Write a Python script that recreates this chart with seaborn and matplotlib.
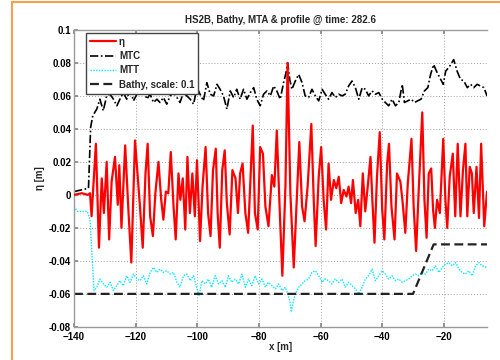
import numpy as np
import pandas as pd
import seaborn as sns
import matplotlib.pyplot as plt
from matplotlib.patches import Rectangle
from matplotlib.ticker import FuncFormatter

## DATOS
# eta: superficie libre
eta_x = [-140.0, -137.5, -135.5, -134.8, -134.3, -132.9, -131.9, -131.0, -130.3, -129.4,
         -128.6, -127.8, -126.7, -125.8, -125.3, -124.6, -123.4, -122.3, -121.4, -120.2,
         -119.4, -118.6, -117.7, -116.8, -116.1, -115.3, -114.4, -113.6, -112.6, -111.7,
         -111.0, -110.2, -109.4, -108.6, -107.7, -107.0, -106.1, -105.5, -104.7, -103.9,
         -103.2, -102.4, -101.6, -100.8, -100.1, -99.1, -98.3, -97.3, -96.5, -95.7,
         -94.9, -94.0, -93.4, -92.7, -91.9, -91.1, -90.4, -89.5, -88.6, -87.6,
         -86.8, -86.1, -85.3, -84.4, -83.5, -82.7, -82.0, -81.3, -80.4, -79.6,
         -78.7, -77.9, -76.9, -75.8, -75.0, -74.2, -73.3, -72.4, -71.4, -70.7,
         -69.8, -68.7, -67.7, -66.9, -66.0, -65.2, -64.2, -63.0, -62.2, -61.6,
         -60.6, -59.8, -59.0, -58.2, -57.4, -56.6, -55.7, -54.9, -54.1, -53.3,
         -52.5, -51.6, -50.9, -50.1, -49.5, -48.6, -47.8, -47.1, -46.3, -45.5,
         -44.7, -43.8, -43.2, -42.5, -41.7, -40.8, -40.0, -39.3, -38.4, -37.8,
         -37.0, -36.0, -35.2, -34.1, -33.4, -32.5, -31.7, -30.5, -29.8, -29.0,
         -28.1, -27.0, -26.3, -25.6, -24.9, -24.1, -23.5, -22.9, -22.2, -21.3,
         -20.2, -19.5, -18.9, -18.1, -17.1, -16.3, -15.5, -14.6, -13.8, -13.0,
         -12.4, -11.6, -10.9, -10.3, -9.4, -8.6, -7.9, -6.9, -6.0]
eta_y = [0.0, 0.001, 0.0, 0.001, -0.013, 0.031, -0.032, 0.01, -0.011, 0.02,
         -0.027, 0.008, 0.023, -0.006, 0.018, -0.02, 0.03, -0.011, -0.041, 0.033,
         0.013, -0.007, -0.032, 0.013, 0.031, -0.013, -0.025, 0.001, 0.02, -0.003,
         -0.015, 0.002, 0.001, 0.026, -0.007, -0.027, 0.013, -0.003, 0.01, -0.021,
         0.023, -0.011, 0.013, -0.013, 0.021, -0.028, 0.005, 0.029, -0.011, -0.025,
         0.015, 0.028, -0.011, -0.032, 0.015, 0.027, -0.005, -0.024, 0.015, 0.01,
         -0.011, 0.013, 0.019, -0.011, -0.023, 0.011, 0.042, -0.011, -0.021, 0.029,
         0.025, -0.007, -0.019, 0.012, 0.005, 0.039, -0.007, -0.049, 0.005, 0.08,
         0.001, -0.044, -0.001, 0.032, -0.007, -0.016, 0.005, 0.043, -0.004, -0.031,
         0.011, 0.029, -0.003, -0.021, 0.019, -0.003, 0.009, 0.004, 0.011, -0.005,
         0.003, -0.001, 0.005, -0.005, 0.009, -0.011, -0.003, -0.019, 0.013, -0.010,
         0.005, 0.023, -0.003, -0.029, 0.011, 0.038, -0.009, -0.027, 0.019, 0.031,
         -0.007, -0.027, 0.013, 0.008, -0.004, -0.023, 0.007, 0.034, -0.007, -0.034,
         0.005, 0.05, -0.003, -0.026, 0.013, 0.016, -0.009, -0.02, -0.003, -0.011,
         0.034, -0.003, -0.02, 0.011, 0.025, -0.013, 0.031, -0.013, 0.015, 0.031,
         -0.013, 0.017, 0.013, -0.011, 0.017, -0.014, 0.031, -0.019, 0.002]

# MTC (cresta media)
mtc_x = [-140.0, -135.3, -134.6, -133.9, -132.6,
         -131.6, -130.5, -129.4, -128.3, -127.2, -126.1, -125.1, -124.0, -122.9, -121.8,
         -120.7, -119.6, -118.6, -117.5, -116.4, -115.3, -114.2, -113.1, -112.1, -111.0,
         -109.9, -108.8, -107.7, -106.6, -105.6, -104.5, -103.4, -102.3, -101.2, -100.1,
         -99.1, -98.0, -96.9, -95.8, -94.7, -93.6, -92.6, -91.5, -90.4, -89.3,
         -88.2, -87.2, -86.1, -85.0, -83.9, -82.8, -81.7, -80.7, -79.6, -78.5,
         -77.4, -76.3, -75.2, -74.2, -73.1, -72.0,
         -71.1, -70.7, -70.0, -69.3,
         -68.2, -67.1, -66.0, -65.0, -63.9, -62.8, -61.7, -60.6, -59.5, -58.5,
         -57.4, -56.3, -55.2, -54.1, -53.0, -52.0, -50.9, -49.8, -48.7, -47.6,
         -46.5, -45.5, -44.4, -43.3, -42.2, -41.1, -40.0, -39.0, -37.9, -36.8,
         -35.7, -34.6, -33.5,
         -32.8,
         -31.7, -30.6, -29.5, -28.5, -27.4, -26.3, -25.2,
         -24.3, -23.3, -22.4, -21.3, -20.2, -19.4, -18.1, -16.8,
         -15.7, -14.6, -13.5, -12.4, -11.3, -10.3, -9.2, -8.1, -7.0, -6.0]
mtc_y = [0.002, 0.004, 0.041, 0.048, 0.052,
         0.058, 0.051, 0.06, 0.061, 0.058, 0.054, 0.058, 0.062, 0.058, 0.064,
         0.057, 0.061, 0.062, 0.065, 0.058, 0.061, 0.056, 0.058, 0.056, 0.059,
         0.055, 0.06, 0.062, 0.059, 0.056, 0.062, 0.06, 0.058, 0.055, 0.065,
         0.061, 0.057, 0.068, 0.061, 0.06, 0.067, 0.064, 0.06, 0.052, 0.063,
         0.059, 0.064, 0.058, 0.064, 0.058, 0.062, 0.065, 0.058, 0.054, 0.061,
         0.063, 0.06, 0.066, 0.063, 0.058, 0.068,
         0.075, 0.08, 0.07, 0.064,
         0.069, 0.073, 0.068, 0.06, 0.059, 0.064, 0.06, 0.057, 0.064, 0.061,
         0.058, 0.062, 0.059, 0.061, 0.06, 0.061, 0.066, 0.069, 0.065, 0.058,
         0.065, 0.064, 0.06, 0.063, 0.061, 0.062, 0.058, 0.056, 0.054, 0.058,
         0.054, 0.056, 0.067,
         0.056,
         0.057, 0.058, 0.056, 0.057, 0.058, 0.063, 0.065,
         0.073, 0.079, 0.075, 0.071, 0.067, 0.075, 0.078, 0.082,
         0.075, 0.07, 0.069, 0.065, 0.067, 0.065, 0.067, 0.066, 0.065, 0.06]

# MTT (seno medio)
mtt_x = [-140.0, -138.9, -135.7, -134.8, -134.2, -133.5,
         -132.6, -131.6, -130.5, -129.4, -128.3, -127.2, -126.1, -125.1, -124.0, -122.9,
         -121.8, -120.7, -119.6, -118.6, -117.5, -116.4, -115.3, -114.2, -113.1, -112.1,
         -111.0, -109.9, -108.8, -107.7, -106.6, -105.6, -104.5, -103.4, -102.3, -101.2,
         -100.1,
         -99.4,
         -98.5, -97.4, -96.4, -95.3, -94.2, -93.1, -92.0, -90.9, -89.9, -88.8,
         -87.7, -86.6, -85.5, -84.4, -83.4, -82.3, -81.2, -80.1, -79.0, -77.9,
         -76.9, -75.8, -74.7, -73.6, -72.5, -71.4,
         -70.7, -70.0, -69.5, -69.0,
         -68.2, -67.1, -66.0, -65.0, -63.9, -62.8, -61.7, -60.6, -59.5, -58.5,
         -57.4, -56.3, -55.2, -54.1, -53.0, -52.0, -50.9, -49.8, -48.7, -47.6,
         -46.5, -45.5, -44.4, -43.3, -42.2, -41.1, -40.0, -39.0, -37.9, -36.8,
         -35.7, -34.6, -33.5, -32.5, -31.4, -30.3, -29.2, -28.1, -27.0, -26.0,
         -24.9, -23.8, -22.7, -21.6, -20.5, -19.5, -18.4, -17.3, -16.2, -15.1,
         -14.1, -13.0, -11.9, -10.8, -9.7, -8.6, -7.6,
         -6.0]
mtt_y = [-0.007, -0.010, -0.010, -0.015, -0.035, -0.058,
         -0.056, -0.051, -0.054, -0.056, -0.053, -0.058, -0.055, -0.052, -0.055, -0.049,
         -0.053, -0.048, -0.051, -0.052, -0.049, -0.054, -0.047, -0.044, -0.047, -0.045,
         -0.047, -0.046, -0.048, -0.047, -0.053, -0.056, -0.049, -0.048, -0.052, -0.049,
         -0.057,
         -0.061,
         -0.052, -0.054, -0.051, -0.056, -0.049, -0.054, -0.052, -0.056, -0.049, -0.053,
         -0.051, -0.054, -0.048, -0.056, -0.051, -0.055, -0.049, -0.054, -0.051, -0.056,
         -0.053, -0.055, -0.057, -0.054, -0.058, -0.056,
         -0.06, -0.064, -0.071, -0.066,
         -0.06, -0.056, -0.054, -0.052, -0.051, -0.047, -0.046, -0.049, -0.053, -0.051,
         -0.052, -0.054, -0.051, -0.053, -0.051, -0.056, -0.053, -0.055, -0.057, -0.06,
         -0.056, -0.051, -0.049, -0.045, -0.052, -0.049, -0.046, -0.048, -0.051, -0.049,
         -0.052, -0.051, -0.053, -0.052, -0.051, -0.049, -0.048, -0.049, -0.047, -0.048,
         -0.045, -0.046, -0.043, -0.047, -0.044, -0.042, -0.041, -0.043, -0.041, -0.045,
         -0.047, -0.048, -0.046, -0.049, -0.043, -0.041, -0.043,
         -0.044]

# Batimetria (escala 0.1)
bathy_x = [-140.0, -30.0, -23.3, -6.0]
bathy_y = [-0.06, -0.06, -0.03, -0.03]

titulo = "HS2B, Bathy, MTA & profile @ time: 282.6"
x_ticks = [-140, -120, -100, -80, -60, -40, -20]
y_ticks = [-0.08, -0.06, -0.04, -0.02, 0, 0.02, 0.04, 0.06, 0.08, 0.1]

## GRAFICO
sns.set_theme(style="white")
plt.rcParams['font.family'] = ['Liberation Sans', 'DejaVu Sans']
plt.rcParams['font.weight'] = 'bold'

fig = plt.figure(figsize=(5, 3.6), dpi=100)
ax = fig.add_axes([0.148, 0.092, 0.826, 0.825])

sns.lineplot(x=eta_x, y=eta_y, ax=ax, color="#ff0000", lw=1.6, label="η",
             sort=False, estimator=None, zorder=3)
sns.lineplot(x=mtc_x, y=mtc_y, ax=ax, color="black", lw=1.2, label="MTC",
             linestyle=(0, (5, 1.5, 1, 1.5)), sort=False, estimator=None, zorder=2)
sns.lineplot(x=mtt_x, y=mtt_y, ax=ax, color="#00e8ff", lw=1.0, label="MTT",
             linestyle=(0, (1, 1)), sort=False, estimator=None, zorder=2)
sns.lineplot(x=bathy_x, y=bathy_y, ax=ax, color="#222222", lw=1.6, label="Bathy, scale: 0.1",
             linestyle=(0, (4, 2)), sort=False, estimator=None, zorder=2)

ax.set_xlim(-140, -6)
ax.set_ylim(-0.08, 0.1)
ax.set_xticks(x_ticks)
ax.set_yticks(y_ticks)
ax.yaxis.set_major_formatter(FuncFormatter(lambda v, p: f"{round(v, 2):g}"))
ax.grid(True, ls=(0, (1, 2)), color="#a0a0a0", lw=0.7)
ax.tick_params(direction="in", length=3, labelsize=7, pad=2, colors="#888888",
               labelcolor="black", left=True, bottom=True, top=True)
ax.tick_params(axis="x", pad=4)
for lado in ["left", "bottom", "top"]:
    ax.spines[lado].set_color("#999999")
    ax.spines[lado].set_linewidth(1.0)
ax.spines["right"].set_visible(False)

ax.set_title(titulo, fontsize=7, fontweight="bold", pad=5)
ax.set_xlabel("x [m]", fontsize=7, fontweight="bold", labelpad=0)
ax.set_ylabel("η [m]", fontsize=7, fontweight="bold", labelpad=3)

leg = ax.legend(loc="upper left", bbox_to_anchor=(0.029, 0.99), borderaxespad=0,
                fontsize=7, handlelength=2.7, handletextpad=0.3, labelspacing=0.45,
                borderpad=0.4, fancybox=False, framealpha=1, edgecolor="#444444")
leg.get_frame().set_linewidth(1.0)

# marco naranja
fig.patches.append(Rectangle((0.024, -0.1), 1.2, 1.094, transform=fig.transFigure,
                             fill=False, edgecolor="#f5a04d", lw=1.5))

fig.savefig("out.png", dpi=100)
